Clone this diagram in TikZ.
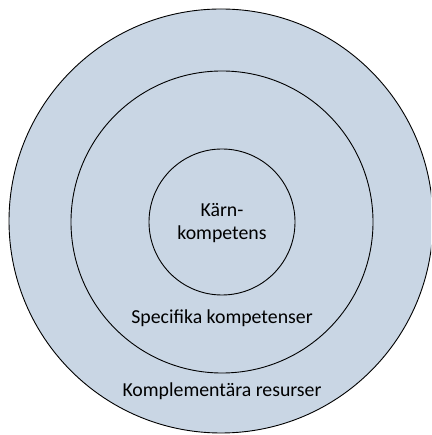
\documentclass[tikz,border=0pt]{standalone}
\usepackage{fontspec}
\setmainfont{Carlito}
\definecolor{ringfill}{RGB}{201,214,228}
\begin{document}
\begin{tikzpicture}[x=1pt,y=1pt,
  ring/.style={circle,draw=black,line width=0.9pt,inner sep=0pt},
  lbl/.style={font=\fontsize{19.8}{23}\selectfont,align=center,inner sep=0pt}]
\useasboundingbox (0,0) rectangle (431,435);
\begin{scope}
\clip (0,0) rectangle (431,435);
\node[ring,fill=ringfill,minimum size=424pt] (outer) at (221,214) {};
\end{scope}
\node[ring,minimum size=302pt] (middle) at (222,213) {};
\node[ring,minimum size=146pt] (inner) at (222,213) {};
\node[lbl] (core) at (222,212) {Kärn-\\kompetens};
\node[lbl] (spec) at (222,117) {Specifika kompetenser};
\node[lbl] (komp) at (222,44) {Komplementära resurser};
\end{tikzpicture}
\end{document}
